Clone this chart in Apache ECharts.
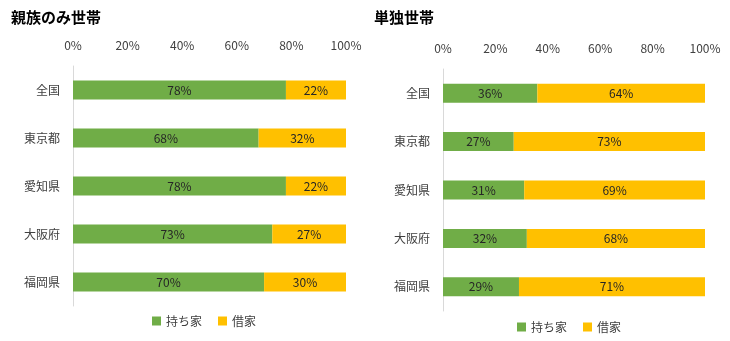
<!DOCTYPE html>
<html><head><meta charset="utf-8">
<script src="https://cdn.jsdelivr.net/npm/echarts@6/dist/echarts.min.js"></script>
<style>html,body{margin:0;padding:0;background:#fff}#c{width:730px;height:341px}</style>
</head><body><div id="c"></div>
<script>
const categories = ['全国','東京都','愛知県','大阪府','福岡県'];
const leftTitle = '親族のみ世帯';
const rightTitle = '単独世帯';
const seriesNames = ['持ち家','借家'];
const leftOwn = [78, 68, 78, 73, 70];
const leftRent = [22, 32, 22, 27, 30];
const rightOwn = [36, 27, 31, 32, 29];
const rightRent = [64, 73, 69, 68, 71];
const colors = ['#70AD47', '#FFC000'];
const font = "'Noto Sans CJK JP', sans-serif";

const chart = echarts.init(document.getElementById('c'));
const lbl = {show:true, position:'inside', formatter:'{c}%', color:'#262626', fontSize:12, fontFamily:font};
function xAx(gi){return {type:'value', gridIndex:gi, position:'top', min:0, max:100, interval:20,
  axisLabel:{formatter:'{value}%', color:'#404040', fontSize:12, fontFamily:font, margin:15},
  axisLine:{show:false}, axisTick:{show:false}, splitLine:{show:false}};}
function yAx(gi){return {type:'category', gridIndex:gi, data:categories, inverse:true,
  axisLabel:{color:'#404040', fontSize:12, fontFamily:font, margin:13},
  axisLine:{show:true, lineStyle:{color:'#d9d9d9'}}, axisTick:{show:false}};}
function bar(name, data, gi, ci, stack){return {name, type:'bar', stack, xAxisIndex:gi, yAxisIndex:gi,
  data, barWidth:19, itemStyle:{color:colors[ci]}, label:lbl};}
chart.setOption({
  animation:false,
  title:[
    {text:leftTitle, left:6, top:5, textStyle:{fontSize:15, fontWeight:'bold', color:'#000', fontFamily:font}},
    {text:rightTitle, left:369, top:5, textStyle:{fontSize:15, fontWeight:'bold', color:'#000', fontFamily:font}}
  ],
  legend:[
    {data:seriesNames, left:147, top:310, itemWidth:9, itemHeight:9, itemGap:16, icon:'rect',
     textStyle:{color:'#404040', fontSize:12, fontFamily:font}},
    {data:seriesNames, left:512, top:316, itemWidth:9, itemHeight:9, itemGap:16, icon:'rect',
     textStyle:{color:'#404040', fontSize:12, fontFamily:font}}
  ],
  grid:[
    {left:73, width:273, top:66, height:240},
    {left:443, width:262, top:69, height:242}
  ],
  xAxis:[xAx(0), xAx(1)],
  yAxis:[yAx(0), yAx(1)],
  series:[
    bar(seriesNames[0], leftOwn, 0, 0, 'a'),
    bar(seriesNames[1], leftRent, 0, 1, 'a'),
    bar(seriesNames[0], rightOwn, 1, 0, 'b'),
    bar(seriesNames[1], rightRent, 1, 1, 'b')
  ]
});
</script></body></html>
